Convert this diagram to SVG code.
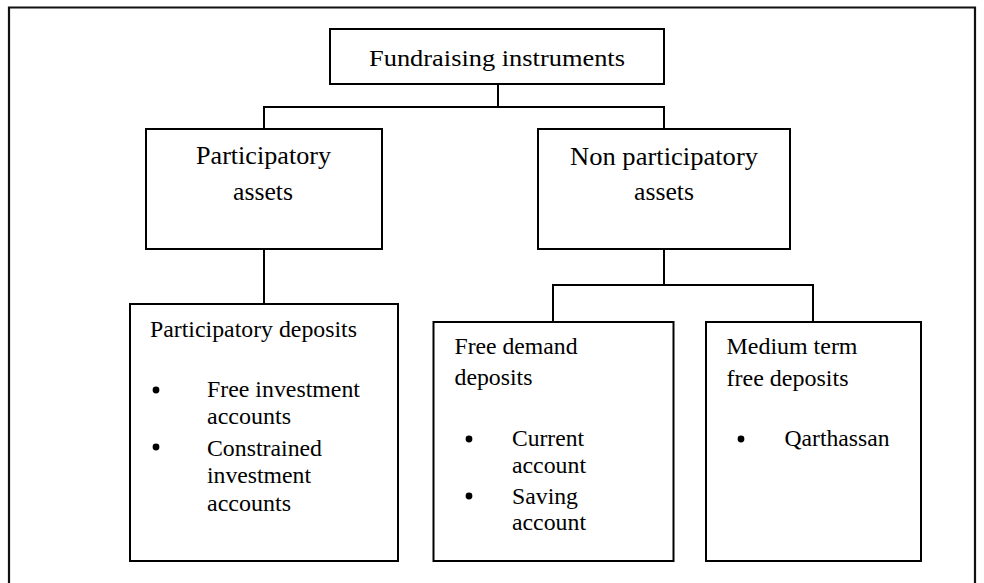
<svg xmlns="http://www.w3.org/2000/svg" width="984" height="583" viewBox="0 0 984 583">
  <style>
    .box { fill: #ffffff; stroke: #000000; stroke-width: 2; }
    .wire { fill: none; stroke: #000000; stroke-width: 2; }
    .frame { fill: none; stroke: #111111; stroke-width: 2.2; }
    text { font-family: "Liberation Serif", "Times New Roman", serif; fill: #000000; }
    .t22 { font-size: 23px; }
    .t25 { font-size: 25px; }
    .t21 { font-size: 22.5px; }
    .dot { fill: #000000; }
  </style>
  <rect width="984" height="583" fill="#ffffff"/>

  <!-- page frame, open at the bottom -->
  <path class="frame" d="M9,583 V7.5 H975 V583"/>

  <!-- connectors -->
  <g id="connectors">
    <path class="wire" d="M498,84 V107"/>
    <path class="wire" d="M264,129 V107 H664 V129"/>
    <path class="wire" d="M264,249 V304"/>
    <path class="wire" d="M664,249 V285"/>
    <path class="wire" d="M553,322 V285 H813 V322"/>
  </g>

  <g id="fundraising-instruments">
    <rect class="box" x="330" y="29" width="334" height="55"/>
    <text class="t22" x="369" y="66" textLength="256" lengthAdjust="spacingAndGlyphs">Fundraising instruments</text>
  </g>

  <g id="participatory-assets">
    <rect class="box" x="146" y="129" width="236" height="120"/>
    <text class="t25" x="196" y="164" textLength="135" lengthAdjust="spacingAndGlyphs">Participatory</text>
    <text class="t25" x="233" y="199.5" textLength="60" lengthAdjust="spacingAndGlyphs">assets</text>
  </g>

  <g id="non-participatory-assets">
    <rect class="box" x="538" y="129" width="252" height="120"/>
    <text class="t25" x="570" y="164.5" textLength="188" lengthAdjust="spacingAndGlyphs">Non participatory</text>
    <text class="t25" x="634" y="200" textLength="60" lengthAdjust="spacingAndGlyphs">assets</text>
  </g>

  <g id="participatory-deposits">
    <rect class="box" x="130" y="304" width="268" height="257"/>
    <text class="t21" x="150" y="336.5" textLength="207" lengthAdjust="spacingAndGlyphs">Participatory deposits</text>
    <circle class="dot" cx="156" cy="390" r="3.4"/>
    <text class="t21" x="207" y="396.5" textLength="153" lengthAdjust="spacingAndGlyphs">Free investment</text>
    <text class="t21" x="207" y="423.5" textLength="84" lengthAdjust="spacingAndGlyphs">accounts</text>
    <circle class="dot" cx="156" cy="447" r="3.4"/>
    <text class="t21" x="207" y="455.5" textLength="115" lengthAdjust="spacingAndGlyphs">Constrained</text>
    <text class="t21" x="207" y="483" textLength="104" lengthAdjust="spacingAndGlyphs">investment</text>
    <text class="t21" x="207" y="510.5" textLength="84" lengthAdjust="spacingAndGlyphs">accounts</text>
  </g>

  <g id="free-demand-deposits">
    <rect class="box" x="433.5" y="322" width="240" height="239"/>
    <text class="t21" x="454.5" y="353.5" textLength="123" lengthAdjust="spacingAndGlyphs">Free demand</text>
    <text class="t21" x="454.5" y="385" textLength="78" lengthAdjust="spacingAndGlyphs">deposits</text>
    <circle class="dot" cx="469" cy="439" r="3.4"/>
    <text class="t21" x="512" y="446" textLength="72" lengthAdjust="spacingAndGlyphs">Current</text>
    <text class="t21" x="512" y="472.5" textLength="74" lengthAdjust="spacingAndGlyphs">account</text>
    <circle class="dot" cx="469" cy="496" r="3.4"/>
    <text class="t21" x="512" y="503.5" textLength="66" lengthAdjust="spacingAndGlyphs">Saving</text>
    <text class="t21" x="512" y="530" textLength="74" lengthAdjust="spacingAndGlyphs">account</text>
  </g>

  <g id="medium-term-free-deposits">
    <rect class="box" x="706" y="322" width="215" height="239"/>
    <text class="t21" x="726.5" y="354" textLength="131" lengthAdjust="spacingAndGlyphs">Medium term</text>
    <text class="t21" x="726.5" y="385.5" textLength="122" lengthAdjust="spacingAndGlyphs">free deposits</text>
    <circle class="dot" cx="741" cy="439" r="3.4"/>
    <text class="t21" x="784.5" y="446" textLength="105" lengthAdjust="spacingAndGlyphs">Qarthassan</text>
  </g>
</svg>
